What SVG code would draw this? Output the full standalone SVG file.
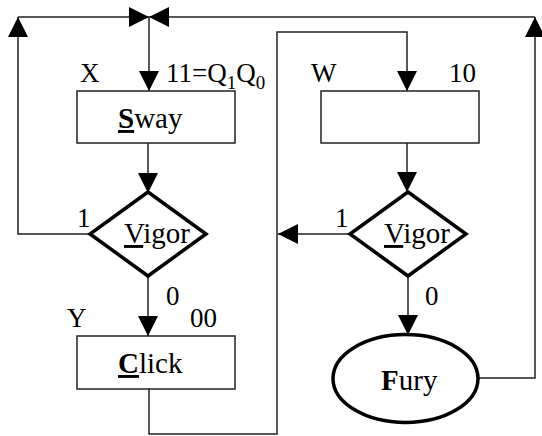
<svg xmlns="http://www.w3.org/2000/svg" width="542" height="436" viewBox="0 0 542 436" font-family="'Liberation Serif', 'DejaVu Serif', serif">
  <style>
    text { font-family: 'Liberation Serif', 'DejaVu Serif', serif; font-size: 27px; fill: #000; }
    .label { font-size: 29px; }
    .box { fill: #fff; stroke: #222; stroke-width: 1.5; }
    .thick { fill: #fff; stroke: #000; stroke-width: 3.5; }
    .wire { fill: none; stroke: #222; stroke-width: 1.5; }
    .key { text-decoration: underline; }
    .bold { font-weight: bold; }
    .sub { font-size: 19px; }
  </style>
  <defs>
    <marker id="arrow" markerUnits="userSpaceOnUse" markerWidth="20" markerHeight="20" refX="20" refY="10" orient="auto" overflow="visible">
      <path d="M0,0 L20,10 L0,20 Z" fill="#000"/>
    </marker>
  </defs>

  <!-- connectors -->
  <g id="connectors">
    <polyline class="wire" points="90,234 18,234 18,17" marker-end="url(#arrow)"/>
    <line class="wire" x1="18" y1="17" x2="149" y2="17" marker-end="url(#arrow)"/>
    <polyline class="wire" points="478,378 535,378 535,17" marker-end="url(#arrow)"/>
    <line class="wire" x1="535" y1="17" x2="149" y2="17" marker-end="url(#arrow)"/>
    <line class="wire" x1="149" y1="17" x2="149" y2="91" marker-end="url(#arrow)"/>
    <line class="wire" x1="148" y1="143" x2="148" y2="193" marker-end="url(#arrow)"/>
    <line class="wire" x1="148" y1="277" x2="148" y2="336" marker-end="url(#arrow)"/>
    <polyline class="wire" points="149,389 149,434 277,434 277,32 407,32 407,91" marker-end="url(#arrow)"/>
    <line class="wire" x1="407" y1="143" x2="407" y2="192" marker-end="url(#arrow)"/>
    <line class="wire" x1="350" y1="234" x2="278" y2="234" marker-end="url(#arrow)"/>
    <line class="wire" x1="408" y1="277" x2="408" y2="335" marker-end="url(#arrow)"/>
  </g>

  <!-- state X -->
  <g id="state-sway">
    <rect class="box" x="77" y="91" width="158" height="52"/>
    <text class="label" x="118" y="128"><tspan class="key bold">S</tspan>way</text>
    <text x="80" y="82">X</text>
    <text x="166" y="82">11=Q<tspan class="sub" dy="7">1</tspan><tspan dy="-7">Q</tspan><tspan class="sub" dy="7">0</tspan></text>
  </g>

  <g id="decision-left">
    <polygon class="thick" points="148,192 206,234 148,276 90,234"/>
    <text class="label" x="124" y="243"><tspan class="key">V</tspan>igor</text>
    <text x="77" y="227">1</text>
    <text x="166" y="305">0</text>
  </g>

  <!-- state Y -->
  <g id="state-click">
    <rect class="box" x="77" y="336" width="158" height="53"/>
    <text class="label" x="118" y="373"><tspan class="key bold">C</tspan>lick</text>
    <text x="67" y="327">Y</text>
    <text x="190" y="327">00</text>
  </g>

  <!-- state W -->
  <g id="state-w">
    <rect class="box" x="321" y="91" width="158" height="52"/>
    <text x="311" y="82">W</text>
    <text x="449" y="82">10</text>
  </g>

  <g id="decision-right">
    <polygon class="thick" points="408,192 466,234 408,276 350,234"/>
    <text class="label" x="384" y="243"><tspan class="key">V</tspan>igor</text>
    <text x="335" y="227">1</text>
    <text x="425" y="305">0</text>
  </g>

  <g id="output-fury">
    <ellipse class="thick" cx="405.5" cy="378.5" rx="72.5" ry="44"/>
    <text class="label" x="381" y="390"><tspan class="bold">F</tspan>ury</text>
  </g>
</svg>
